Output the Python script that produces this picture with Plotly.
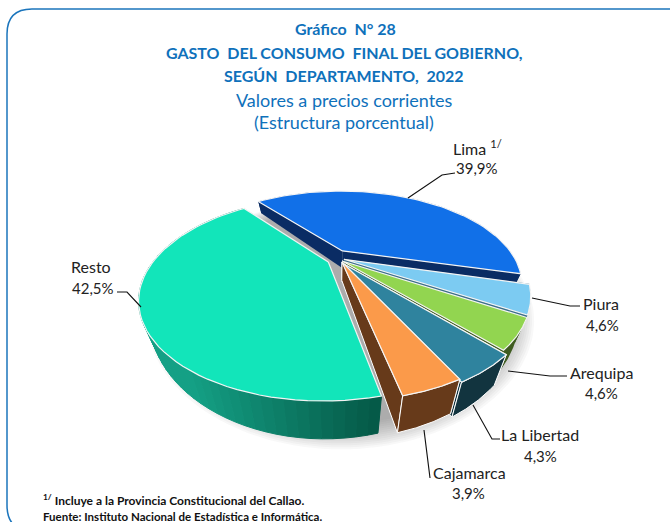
import numpy as np
import plotly.graph_objects as go

# ---- data
departments = ["Lima", "Piura", "Arequipa", "La Libertad", "Cajamarca", "Resto"]
shares = [39.9, 4.6, 4.6, 4.3, 3.9, 42.5]
share_labels = ["39,9%", "4,6%", "4,6%", "4,3%", "3,9%", "42,5%"]

# ---- styles
top_colors = ["#1170e8", "#7ccbf2", "#92d550", "#2f839e", "#fb9a4a", "#12e5ba"]
wall_colors = ["#0a2c64", "#3c6f8a", "#3f5c20", "#12343f", "#673a1a", "#0b7a63"]
explode = [0.115, 0.03, 0.03, 0.045, 0.05, 0.055]
nudge_x = [-0.03, 0.012, 0.006, 0.006, 0.012, 0.0]
nudge_y = [-0.012, -0.02, -0.008, 0.0, -0.025, 0.0]
BLUE = "#0f71bb"
FONT = "Lato"

# ---- projection of the tilted pie
CX, CY, RX, RY, K = 337.0, 260.0, 174.0, 87.0, 0.36
START = 231.0
WALL = 37.0
S_FRONT = 1 / (1 - K)


def project(px, py):
    s = 1 / (1 - K * py)
    return CX + RX * px * s, CY + RY * py * s, s


def top_pt(px, py):
    x, y, _ = project(px, py)
    return x, y


def bottom_pt(px, py):
    x, y, s = project(px, py)
    r = s / S_FRONT
    return x - (x - CX) * 0.08 * r, y + WALL * r ** 1.6


def poly(fig, pts, fill, line=None, width=0):
    xs = [p[0] for p in pts] + [pts[0][0]]
    ys = [p[1] for p in pts] + [pts[0][1]]
    fig.add_trace(go.Scatter(
        x=xs, y=ys, mode="lines", fill="toself", fillcolor=fill,
        line=dict(color=line or fill, width=width), hoverinfo="skip", showlegend=False))


def mix(a, b, t):
    ca = [int(a[i:i + 2], 16) for i in (1, 3, 5)]
    cb = [int(b[i:i + 2], 16) for i in (1, 3, 5)]
    return "rgb(%d,%d,%d)" % tuple(round(u + (v - u) * t) for u, v in zip(ca, cb))


fig = go.Figure()

# soft shadow under the pie
full = np.radians(np.linspace(0, 360, 181))
for i in range(14):
    grow = 1.10 - i * 0.012
    pts = []
    for t in full:
        x, y = bottom_pt(np.cos(t), np.sin(t))
        pts.append((CX + 4 + (x - CX) * grow, 268 + (y - 268) * grow))
    poly(fig, pts, "rgba(60,60,60,0.035)")

# slices, back to front
total = sum(shares)
angle = START
for name, v, top, wall, d, nx, ny in zip(departments, shares, top_colors, wall_colors, explode, nudge_x, nudge_y):
    span = v / total * 360
    th = np.radians(np.linspace(angle, angle + span, 60))
    mid = np.radians(angle + span / 2)
    ox, oy = d * np.cos(mid) + nx, d * np.sin(mid) + ny
    rim = [(ox + np.cos(t), oy + np.sin(t)) for t in th]
    apex = (ox, oy)
    angle += span

    edge = "#ffffff" if name in ("Cajamarca", "La Libertad") else None
    w = 1 if edge else 0
    # radial walls
    for a in (rim[0], rim[-1]):
        poly(fig, [top_pt(*apex), top_pt(*a), bottom_pt(*a), bottom_pt(*apex)], wall, edge, w)
    # outer wall
    if name == "Resto":
        lo, hi = 190.0, 380.0
        for p, q in zip(rim[:-1], rim[1:]):
            f = float(np.clip((top_pt(*p)[0] - lo) / (hi - lo), 0, 1))
            c = mix("#14a085", "#055a48", f)
            poly(fig, [top_pt(*p), top_pt(*q), bottom_pt(*q), bottom_pt(*p)], c, c, 1)
    else:
        poly(fig, [top_pt(*p) for p in rim] + [bottom_pt(*p) for p in rim[::-1]], wall, edge, w)
    # top face
    poly(fig, [top_pt(*apex)] + [top_pt(*p) for p in rim], top, "#f4f4f4", 1.2)

# leader lines
leaders = [
    ([408, 442, 455], [198, 175, 173]),
    ([141, 127, 117], [307, 292, 292]),
    ([532, 570, 580], [298, 306, 306]),
    ([508, 550, 567], [371, 376, 376]),
    ([473, 492, 500], [405, 439, 439]),
    ([424, 430], [430, 478]),
]
for lx, ly in leaders:
    fig.add_trace(go.Scatter(x=lx, y=ly, mode="lines", line=dict(color="#111111", width=1.1),
                             hoverinfo="skip", showlegend=False))

annots = []


def text(x, y, s, size, color="#222222", anchor="center"):
    annots.append(dict(x=x, y=y, xref="x", yref="y", text=s, showarrow=False, xanchor=anchor,
                       yanchor="middle", font=dict(family=FONT, size=size, color=color)))


text(345, 28, "<b>Gráfico  N° 28</b>", 16, BLUE)
text(344, 52, "<b>GASTO  DEL CONSUMO  FINAL DEL GOBIERNO,</b>", 16, BLUE)
text(344, 75, "<b>SEGÚN  DEPARTAMENTO,  2022</b>", 16, BLUE)
text(344, 100, "Valores a precios corrientes", 18, BLUE)
text(344, 122, "(Estructura porcentual)", 18, BLUE)

label_pos = [(477, 147), (601, 303), (601, 372), (540, 434), (469, 472), (91, 266)]
value_pos = [(477, 168), (602, 325), (601, 393), (540, 456), (468, 493), (93, 288)]
for name, lab, lp, vp in zip(departments, share_labels, label_pos, value_pos):
    title = "Lima <sup>1/</sup>" if name == "Lima" else name
    text(lp[0], lp[1], title, 16)
    text(vp[0], vp[1], lab, 15)

text(41, 500, "<b><sup>1/</sup> Incluye a la Provincia Constitucional del Callao.</b>", 12, "#111111", "left")
text(41, 516, "<b>Fuente: Instituto Nacional de Estadística e Informática.</b>", 11.5, "#111111", "left")

frame = "M 680 9 L 32 9 Q 7 9 7 34 L 7 505 Q 7 530 30 530 L 680 530 Z"

fig.update_layout(
    width=670, height=522, margin=dict(l=0, r=0, t=0, b=0),
    paper_bgcolor="white", plot_bgcolor="white", showlegend=False,
    xaxis=dict(range=[0, 670], visible=False, fixedrange=True),
    yaxis=dict(range=[522, 0], visible=False, fixedrange=True),
    annotations=annots,
    shapes=[dict(type="path", path=frame, xref="x", yref="y", line=dict(color="#1b75bc", width=1.5),
                 layer="below")],
)
fig.write_html("out.html", config={"displayModeBar": False},
               post_script="document.body.style.margin='0';document.documentElement.style.overflow='hidden';")
